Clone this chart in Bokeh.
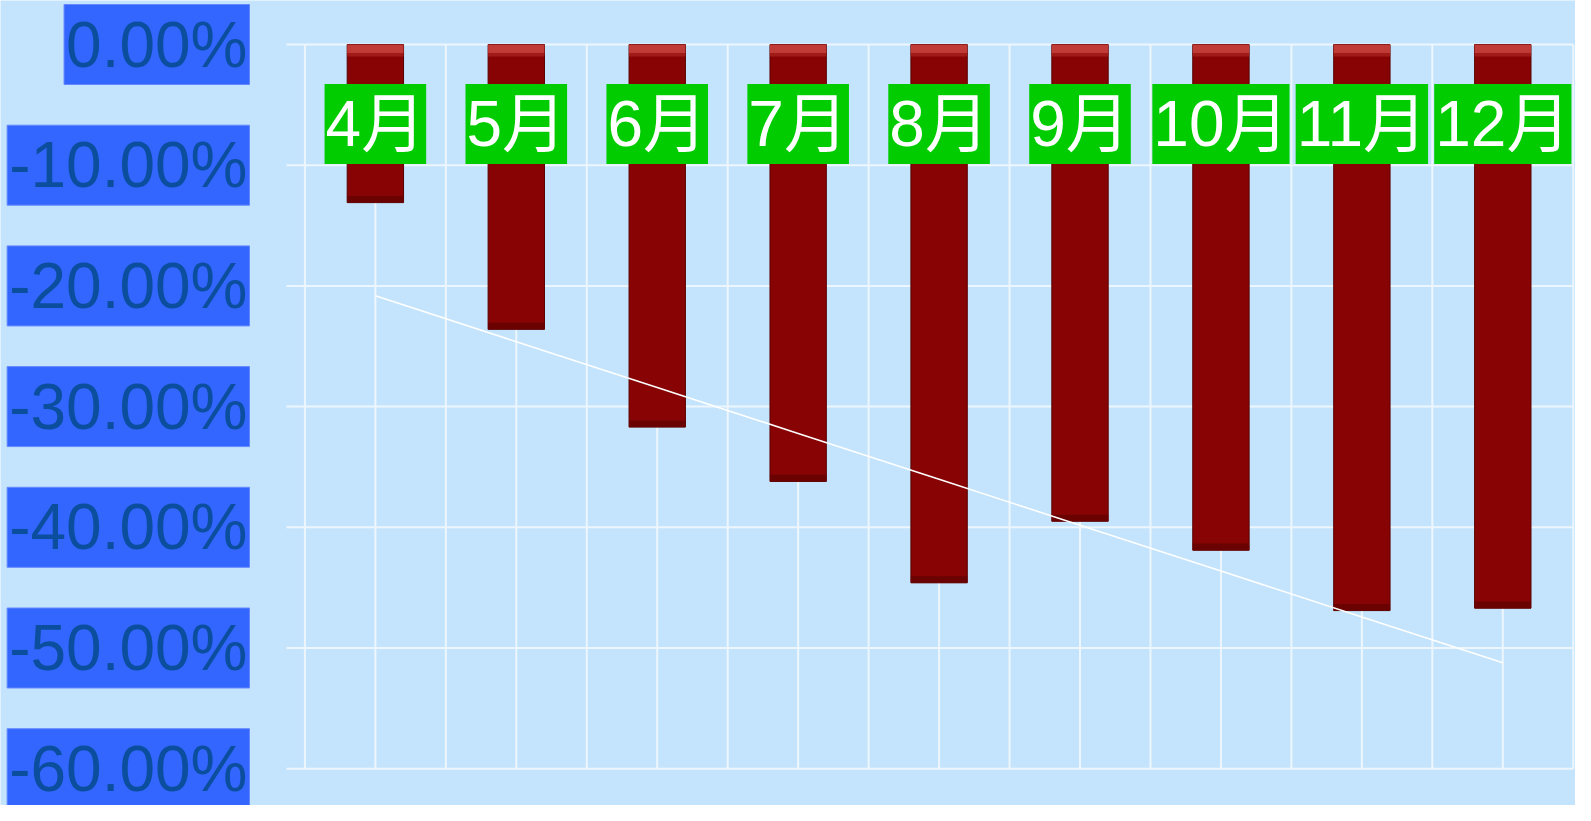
import numpy as np
from bokeh.plotting import figure
from bokeh.models import ColumnDataSource
from bokeh.core.properties import value
from bokeh.embed import file_html
from bokeh.resources import INLINE

# ---- data ----
months = ["4月", "5月", "6月", "7月", "8月", "9月", "10月", "11月", "12月"]
change_pct = [-13.1, -23.6, -31.7, -36.2, -44.6, -39.5, -41.9, -46.9, -46.7]
y_ticks = [0, -10, -20, -30, -40, -50, -60]
y_tick_labels = ["0.00%", "-10.00%", "-20.00%", "-30.00%", "-40.00%", "-50.00%", "-60.00%"]

# ---- layout (pixel geometry of the figure) ----
W, H = 1575, 805
STEP = 140.93           # px per category
LEFT_BOUND_PX = 304.4   # first category boundary, px from figure left
ZERO_PX = 44            # y=0 line, px from figure top
PX_PER_PCT = 12.07

x0 = -0.5 - LEFT_BOUND_PX / STEP
x1 = x0 + W / STEP
y1 = ZERO_PX / PX_PER_PCT
y0 = y1 - H / PX_PER_PCT

def px_to_x(px):
    return x0 + px / STEP

def px_to_y(py):
    return y1 - py / PX_PER_PCT

idx = np.arange(len(months))
BG = "#C3E4FC"
GRID = "#EEF6FD"

p = figure(width=W, height=H, x_range=(x0, x1), y_range=(y0, y1),
           output_backend="svg", toolbar_location=None,
           x_axis_location=None, y_axis_location=None, min_border=0)
p.background_fill_color = BG
p.border_fill_color = BG
p.outline_line_color = None
p.xgrid.visible = False
p.ygrid.visible = False

n = len(months)
ymin = min(y_ticks)
# horizontal grid lines
p.segment(x0=[px_to_x(286)] * len(y_ticks), x1=[n - 0.5] * len(y_ticks),
          y0=y_ticks, y1=y_ticks, line_color=GRID, line_width=2)
# vertical grid lines at category boundaries and centres
bounds = list(np.arange(n + 1) - 0.5)
p.segment(x0=bounds, x1=bounds, y0=[0] * len(bounds), y1=[ymin] * len(bounds),
          line_color=GRID, line_width=2)
p.segment(x0=list(idx), x1=list(idx), y0=[0] * n, y1=[ymin] * n,
          line_color=GRID, line_width=2)

# bars
src = ColumnDataSource(dict(x=idx, top=[0] * n, bottom=change_pct))
p.vbar(x="x", top="top", bottom="bottom", width=0.40, source=src,
       fill_color="#880404", line_color="#5A0000", line_width=1)
# bevel highlights
p.vbar(x=idx, top=[0] * n, bottom=[-0.7] * n, width=0.40,
       fill_color="#C03A36", line_color=None)
p.vbar(x=idx, top=[-0.7] * n, bottom=[-1.0] * n, width=0.40,
       fill_color="#A01A18", line_color=None)
p.vbar(x=idx, top=[v + 0.55 for v in change_pct], bottom=change_pct, width=0.40,
       fill_color="#6A0202", line_color=None)

# linear trend line
coef = np.polyfit(idx, change_pct, 1)
p.line(x=idx, y=np.polyval(coef, idx), line_color="white", line_width=1.6)

# category labels in green boxes
p.text(x=idx, y=[px_to_y(123.5)] * n, text=months, text_align="center", text_baseline="middle",
       text_font=value("Liberation Sans, Noto Sans CJK SC"), text_font_size="64px",
       text_color="white", background_fill_color="#00CC00", padding=(1, 4))

# y tick labels in blue boxes
p.text(x=[px_to_x(249)] * len(y_ticks), y=y_ticks, text=y_tick_labels,
       text_align="right", text_baseline="middle",
       text_font=value("Liberation Sans"), text_font_size="64px",
       text_color="#0C4E9E", background_fill_color="#3366FF",
       border_line_color="#6688FF", border_line_width=1, padding=(2, 4))

open("out.html", "w").write(file_html(p, INLINE))
